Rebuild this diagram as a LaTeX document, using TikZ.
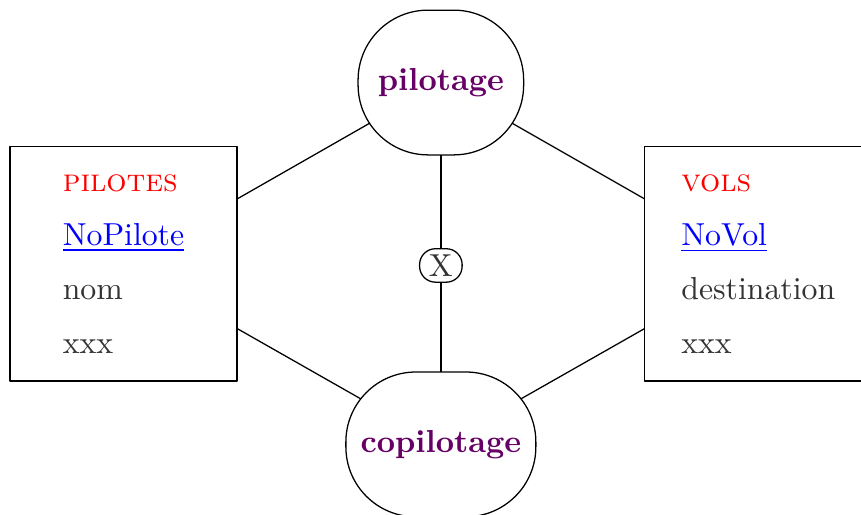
\documentclass[tikz,border=0pt]{standalone}
\usepackage{amsmath}
\usepackage[usenames]{xcolor}
\usepackage{tikz}
\usetikzlibrary{arrows,backgrounds}

\definecolor{relcol}{RGB}{102,0,102}
\definecolor{attcol}{RGB}{51,51,51}

\newcommand{\entname}[1]{\textcolor{red}{\textsc{#1}}}
\newcommand{\idattr}[1]{\textcolor{blue}{\underline{#1}}}

\tikzset{
  entity/.style={draw,fill=white,rectangle,minimum width=2.51cm,minimum height=2.59cm,align=left,text=attcol},
  relation/.style={draw,fill=white,rectangle,rounded corners=22pt,minimum height=1.6cm,font=\bfseries,text=relcol},
  card/.style={draw,fill=white,rectangle,rounded corners=5pt,minimum width=0.47cm,minimum height=0.37cm,inner sep=1pt,text=attcol}
}

\begin{document}
\begin{tikzpicture}[line cap=round,line join=round]
\useasboundingbox (0,0) rectangle (9.517,-5.692);
% entities
\node[entity] (pilotes) at (1.365,-2.917) {\entname{pilotes}\\[5pt] \idattr{NoPilote}\\[5pt] nom\\[5pt] xxx};
\node[entity] (vols) at (8.382,-2.917) {\entname{vols}\\[5pt] \idattr{NoVol}\\[5pt] destination\\[5pt] xxx};
% relations
\node[relation,minimum width=1.83cm] (pilotage) at (4.873,-0.912) {pilotage};
\node[relation,minimum width=2.10cm] (copilotage) at (4.873,-4.912) {copilotage};
\node[card] (excl) at (4.873,-2.934) {X};
% links
\begin{pgfonlayer}{background}
\draw (pilotes.center) -- (pilotage.center);
\draw (pilotes.center) -- (copilotage.center);
\draw (vols.center) -- (pilotage.center);
\draw (vols.center) -- (copilotage.center);
\draw (pilotage.center) -- (excl.center);
\draw (excl.center) -- (copilotage.center);
\end{pgfonlayer}
\end{tikzpicture}
\end{document}
